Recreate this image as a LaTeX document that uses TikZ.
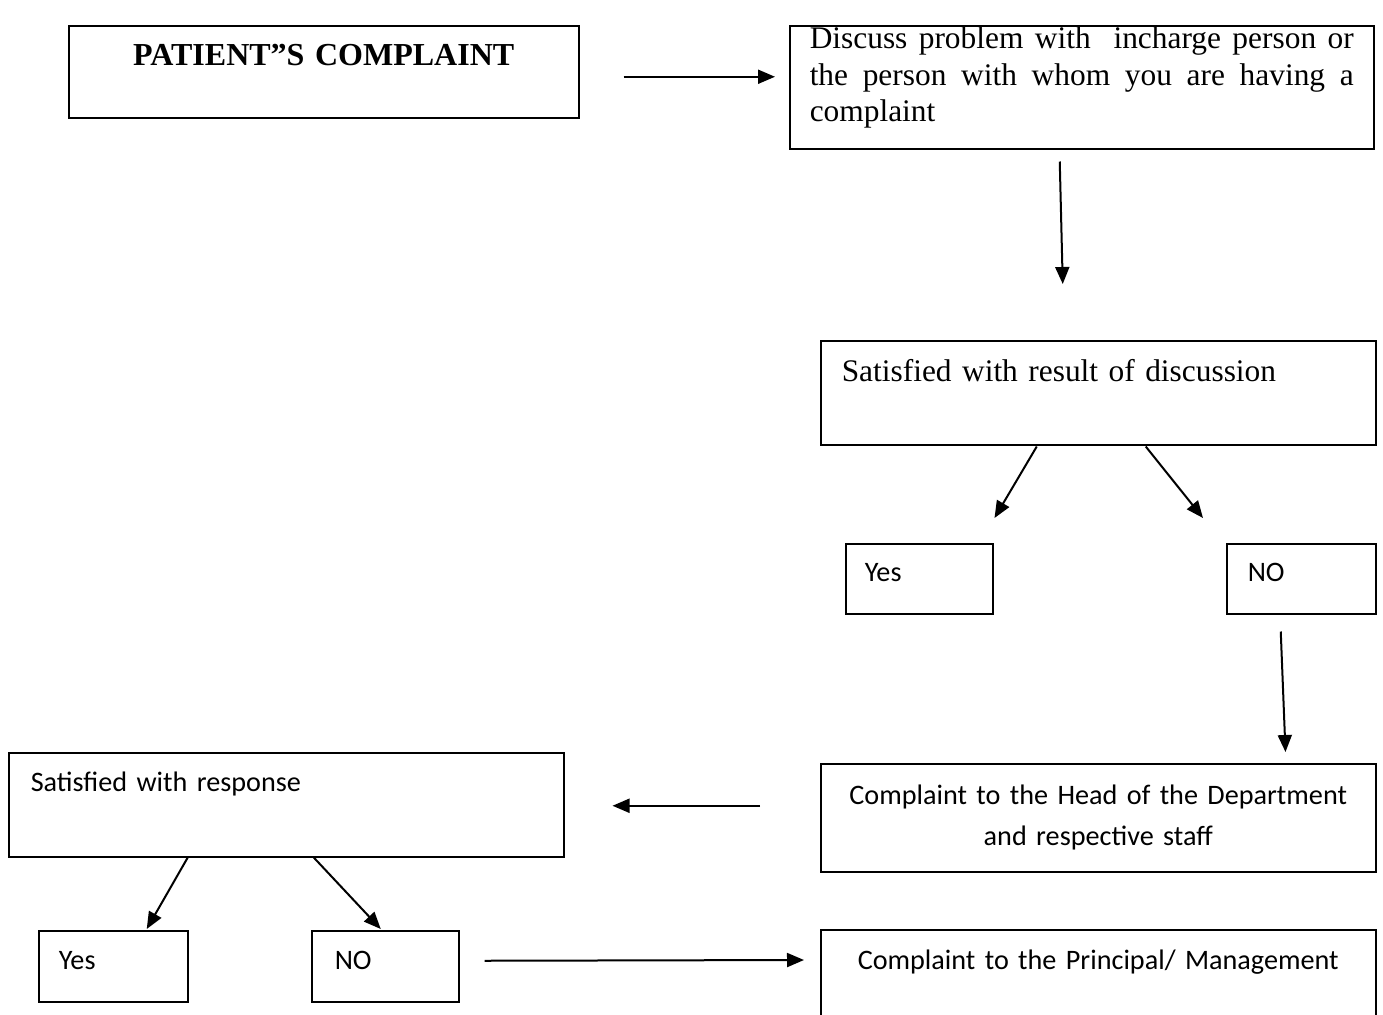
\documentclass[tikz,border=0pt]{standalone}
\usepackage{fontspec}
\setmainfont{Liberation Serif}
\newfontfamily\calibri{Carlito}
\usetikzlibrary{arrows.meta,positioning}

\begin{document}
\begin{tikzpicture}[x=0.5pt,y=-0.5pt,
	box/.style={draw,line width=0.75pt,anchor=north west,inner ysep=0pt,inner xsep=0pt},
	arrow/.style={-{Triangle[length=8.5pt,width=7pt]},line width=1pt},
	serif/.style={font=\fontsize{15.7}{18.2}\selectfont},
	sans/.style={font=\calibri\fontsize{14.1}{20.5}\selectfont}]
	
	\useasboundingbox (0,0) rectangle (1383,1014);
	
	\node[box,font=\fontsize{16}{18.4}\selectfont\bfseries,text width=255pt,align=center,text height=20pt,text depth=26pt] (complaint) at (68,25) {PATIENT”S COMPLAINT};
	\node[box,serif,text width=272pt,inner xsep=10pt,align=justify,text height=11.5pt,text depth=50pt] (discuss) at (789,25) {Discuss problem with~ incharge person or\linebreak the person with whom you are having a\linebreak complaint};
	\node[box,serif,text width=256.5pt,inner xsep=10.5pt,align=left,text height=20.5pt,text depth=31.5pt] (result) at (820,340) {Satisfied with result of discussion};
	
	\node[box,sans,text width=54.5pt,inner xsep=9.5pt,align=left,text height=19pt,text depth=16pt] (yes1) at (845,543) {Yes};
	\node[box,sans,text width=53.5pt,inner xsep=10.5pt,align=left,text height=19pt,text depth=16pt] (no1) at (1226,543) {NO};
	\node[box,sans,text width=277.5pt,align=center,minimum height=54pt] (head) at (820,763) {Complaint to the Head of the Department\\and respective staff};
	\node[box,sans,text width=255.5pt,inner xsep=11pt,align=left,text height=19.5pt,text depth=32.5pt] (response) at (8,752) {Satisfied with response};
	
	\node[box,sans,text width=54.5pt,inner xsep=10pt,align=left,text height=19.5pt,text depth=16pt] (yes2) at (38,930) {Yes};
	\node[box,sans,text width=50.5pt,inner xsep=11.5pt,align=left,text height=19.5pt,text depth=16pt] (no2) at (311,930) {NO};
	\node[box,sans,text width=277.5pt,align=center,text height=20pt,text depth=35.5pt] (principal) at (820,929) {Complaint to the Principal/ Management};
	
	\draw[arrow] ([shift={(22pt,-2.5pt)}]complaint.east) -- ([shift={(-7pt,5.25pt)}]discuss.west);
	\draw[arrow] ([shift={(-11pt,-6pt)}]discuss.south) -- ([shift={(-17.75pt,28pt)}]result.north);
	\draw[arrow] ([shift={(-30.75pt,-0.5pt)}]result.south) -- ([shift={(0.5pt,12.5pt)}]yes1.north east);
	\draw[arrow] ([shift={(23.75pt,-0.5pt)}]result.south) -- ([shift={(-11.5pt,12.5pt)}]no1.north west);
	\draw[arrow] ([shift={(-10.25pt,-8.5pt)}]no1.south) -- ([shift={(-45.5pt,5.5pt)}]head.north east);
	\draw[arrow] ([shift={(-30pt,6pt)}]head.west) -- ([shift={(24pt,-0.5pt)}]response.east);
	\draw[arrow] ([shift={(-49.25pt,0pt)}]response.south) -- ([shift={(16.75pt,0.5pt)}]yes2.north);
	\draw[arrow] ([shift={(13.75pt,0pt)}]response.south) -- ([shift={(-2.25pt,0.5pt)}]no2.north);
	\draw[arrow] ([shift={(12.5pt,2.75pt)}]no2.east) -- ([shift={(-8pt,-15.5pt)}]principal.north west);
\end{tikzpicture}
\end{document}
